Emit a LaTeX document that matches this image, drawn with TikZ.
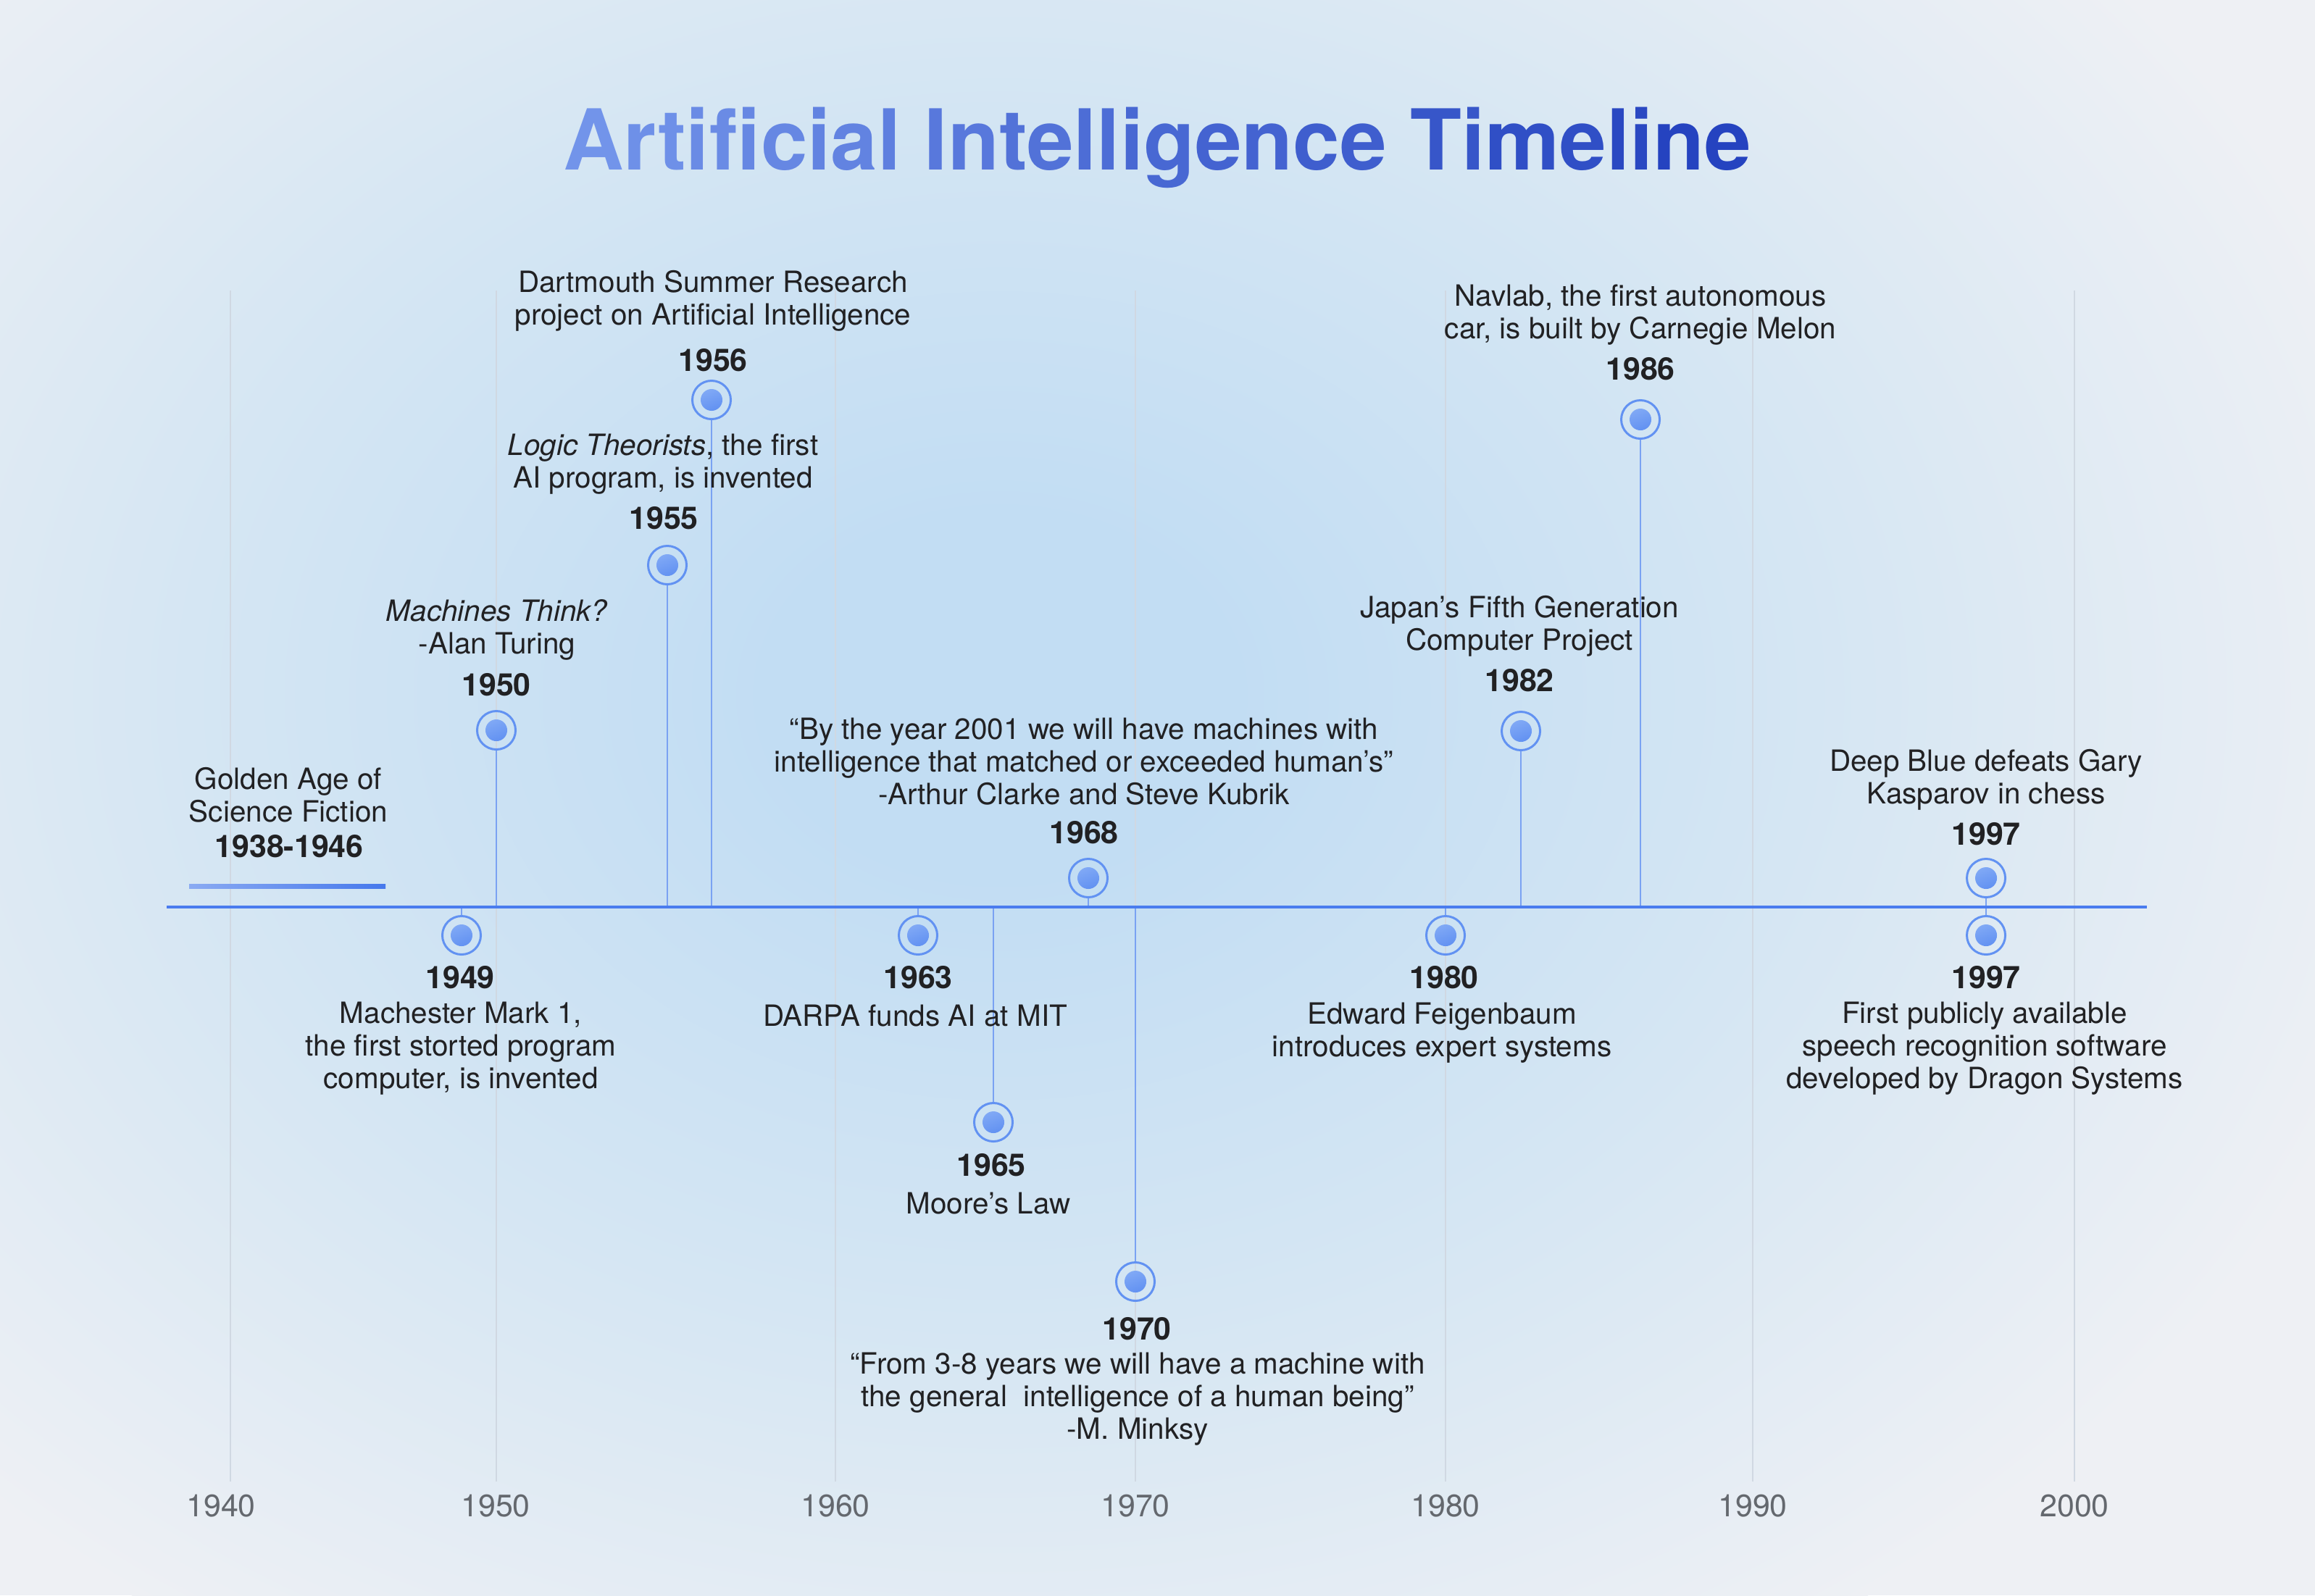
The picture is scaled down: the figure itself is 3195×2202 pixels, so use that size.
\documentclass[tikz,border=0pt]{standalone}
\usepackage{fontspec}
\setmainfont{TeX Gyre Heros}
\usetikzlibrary{calc}
\definecolor{bgin}{RGB}{194,221,243}
\definecolor{bgmid}{RGB}{213,230,243}
\definecolor{bgout}{RGB}{238,240,244}
\definecolor{axisblue}{RGB}{74,124,238}
\definecolor{stemc}{RGB}{122,162,242}
\definecolor{ringc}{RGB}{98,146,242}
\definecolor{dotA}{RGB}{86,136,240}
\definecolor{dotB}{RGB}{140,178,247}
\definecolor{gridc}{RGB}{208,216,226}
\definecolor{txt}{RGB}{33,33,35}
\definecolor{axtxt}{RGB}{100,104,110}
\definecolor{barA}{RGB}{138,170,242}
\definecolor{barB}{RGB}{70,120,236}
\definecolor{tA}{RGB}{114,148,234}
\definecolor{tB}{RGB}{34,64,190}
\pgfdeclareradialshading{bgshade}{\pgfpoint{0bp}{0bp}}{color(0bp)=(bgin); color(4bp)=(bgin); color(14bp)=(bgmid); color(25bp)=(bgout); color(50bp)=(bgout)}
\newcommand{\ttc}[2]{\textcolor{tB!#1!tA}{#2}}
\begin{document}
\begin{tikzpicture}[x=0.01cm,y=-0.01cm,
  gridline/.style={draw=gridc, line width=0.6pt},
  stemline/.style={draw=stemc, line width=0.6pt},
  axisline/.style={draw=axisblue, line width=1.4pt},
  marker/.style={circle, draw=ringc, line width=0.85pt, minimum size=0.53cm, inner sep=0pt,
    path picture={\shade[left color=dotA, right color=dotB, shading angle=200]
      (path picture bounding box.center) circle[radius=0.15cm];}},
  body/.style={font=\fontsize{11.5}{12.8}\selectfont, text=txt, align=center, inner sep=0pt, yshift=-0.7pt},
  yr/.style={font=\fontsize{12.2}{14}\selectfont\bfseries, text=txt, inner sep=0pt},
  axl/.style={font=\fontsize{12.2}{14}\selectfont, text=axtxt, inner sep=0pt}]
\useasboundingbox (0,0) rectangle (3195,2202);
% background
\fill[bgout] (0,0) rectangle (3195,2202);
\begin{scope}
\clip (0,0) rectangle (3195,2202);
\shade[shading=bgshade] (1380,960) ellipse [x radius=20cm, y radius=15.5cm];
\end{scope}
% decade grid lines
\foreach \gx in {318,685,1153,1567,1995,2419,2863}
  \draw[gridline] (\gx,401) -- (\gx,2045);
% axis labels
\node[axl] (l1940) at (305,2079) {1940};
\node[axl] (l1950) at (684,2079) {1950};
\node[axl] (l1960) at (1153,2079) {1960};
\node[axl] (l1970) at (1567,2079) {1970};
\node[axl] (l1980) at (1995,2079) {1980};
\node[axl] (l1990) at (2419,2079) {1990};
\node[axl] (l2000) at (2863,2079) {2000};
% axis
\coordinate (axL) at (230,1252);
\coordinate (axR) at (2963,1252);
% markers
\node[marker] (m1950) at (685,1008) {};
\node[marker] (m1955) at (921,780) {};
\node[marker] (m1956) at (982,552) {};
\node[marker] (m1968) at (1502,1212) {};
\node[marker] (m1982) at (2099,1009) {};
\node[marker] (m1986) at (2264,579) {};
\node[marker] (m1997a) at (2741,1212) {};
\node[marker] (m1949) at (637,1291) {};
\node[marker] (m1963) at (1267,1291) {};
\node[marker] (m1965) at (1371,1549) {};
\node[marker] (m1970) at (1567,1769) {};
\node[marker] (m1980) at (1995,1291) {};
\node[marker] (m1997b) at (2741,1291) {};
% stems
\foreach \m in {m1950,m1955,m1956,m1968,m1982,m1986,m1997a}
  \draw[stemline] (\m.south) -- (\m.south |- axL);
\foreach \m in {m1949,m1963,m1965,m1970,m1980,m1997b}
  \draw[stemline] (\m.north) -- (\m.north |- axL);
\draw[axisline] (axL) -- (axR);
% golden age bar
\shade[left color=barA, right color=barB] (261,1220) rectangle (532,1226);
% title
\node[font=\fontsize{33}{40}\selectfont\bfseries, inner sep=0pt] (title) at (1597,204)
 {\ttc{0}{A}\ttc{5}{rt}\ttc{10}{if}\ttc{15}{ic}\ttc{20}{ia}\ttc{25}{l} \ttc{33}{In}\ttc{40}{te}\ttc{46}{ll}\ttc{52}{ig}\ttc{58}{en}\ttc{64}{ce} \ttc{74}{Ti}\ttc{82}{me}\ttc{90}{li}\ttc{96}{ne}};
% texts above
\node[body] (tGold) at (398,1095) {Golden Age of\\Science Fiction};
\node[yr] (yGold) at (399,1168) {1938-1946};
\node[body] (t1950) at (686,867) {\textit{Machines Think?}\\-Alan Turing};
\node[yr] (y1950) at (685,945) {1950};
\node[body] (t1955) at (915,638) {\textit{Logic Theorists}, the first\\AI program, is invented};
\node[yr] (y1955) at (916,715) {1955};
\node[body] (t1956) at (984,413) {Dartmouth Summer Research\\project on Artificial Intelligence};
\node[yr] (y1956) at (984,497) {1956};
\node[body] (t1968) at (1496,1049) {“By the year 2001 we will have machines with\\intelligence that matched or exceeded human’s”\\-Arthur Clarke and Steve Kubrik};
\node[yr] (y1968) at (1496,1149) {1968};
\node[body] (t1982) at (2097,862) {Japan’s Fifth Generation\\Computer Project};
\node[yr] (y1982) at (2097,939) {1982};
\node[body] (t1986) at (2264,432) {Navlab, the first autonomous\\car, is built by Carnegie Melon};
\node[yr] (y1986) at (2264,509) {1986};
\node[body] (t1997a) at (2741,1074) {Deep Blue defeats Gary\\Kasparov in chess};
\node[yr] (y1997a) at (2741,1151) {1997};
% texts below
\node[yr] (y1949) at (635,1349) {1949};
\node[body] (t1949) at (636,1445) {Machester Mark 1,\\the first storted program\\computer, is invented};
\node[yr] (y1963) at (1267,1349) {1963};
\node[body] (t1963) at (1263,1400) {DARPA funds AI at MIT};
\node[yr] (y1965) at (1368,1608) {1965};
\node[body] (t1965) at (1364,1659) {Moore’s Law};
\node[yr] (y1970) at (1569,1834) {1970};
\node[body] (t1970) at (1570,1929) {“From 3-8 years we will have a machine with\\the general \ intelligence of a human being”\\-M. Minksy};
\node[yr] (y1980) at (1993,1349) {1980};
\node[body] (t1980) at (1990,1423) {Edward Feigenbaum\\introduces expert systems};
\node[yr] (y1997b) at (2741,1349) {1997};
\node[body] (t1997b) at (2739,1445) {First publicly available\\speech recognition software\\developed by Dragon Systems};
\end{tikzpicture}
\end{document}
